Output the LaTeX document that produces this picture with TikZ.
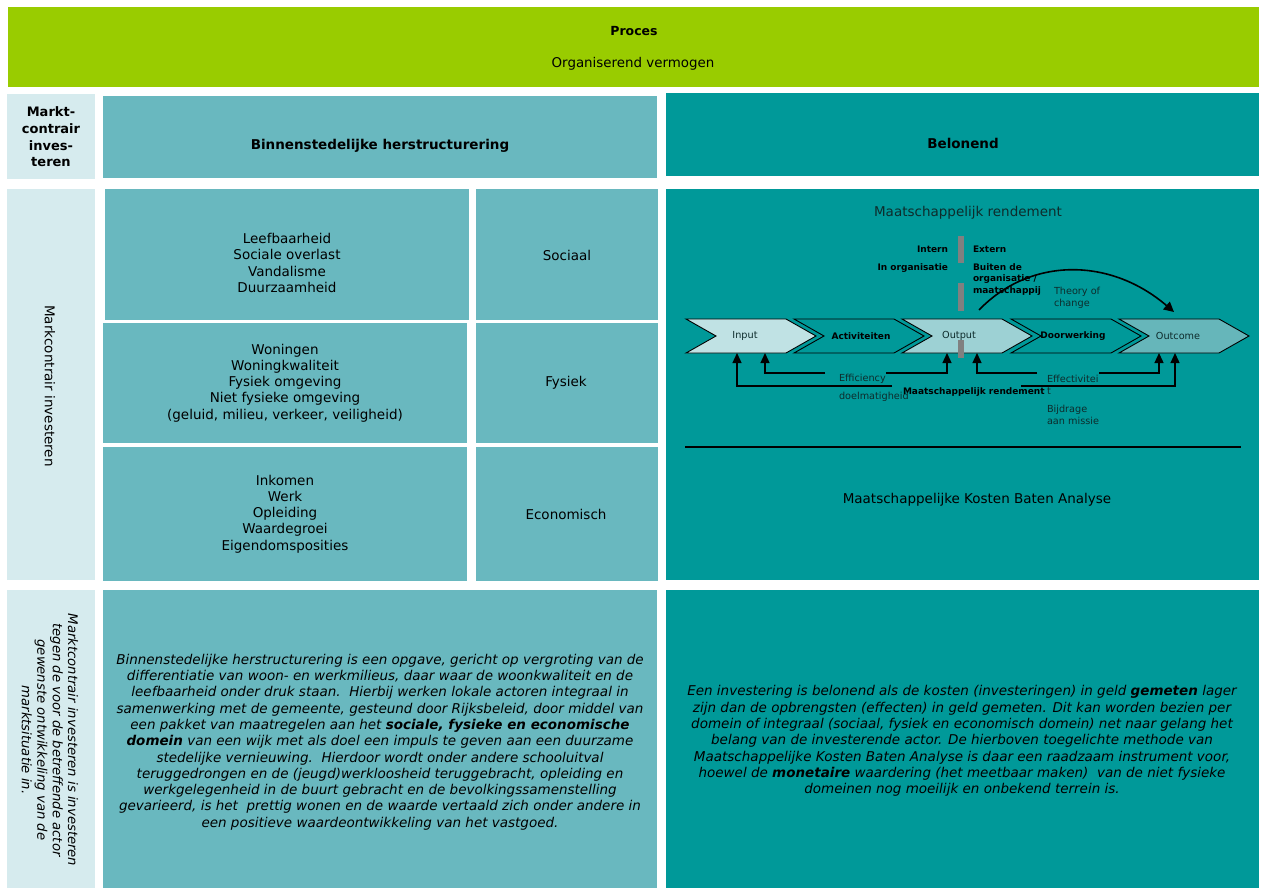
\documentclass[tikz,border=0pt]{standalone}
\usepackage{fontspec}
\setmainfont{DejaVu Sans}
\usetikzlibrary{arrows.meta}
\definecolor{procgreen}{HTML}{99CC00}
\definecolor{paleteal}{HTML}{D6EBEE}
\definecolor{midteal}{HTML}{69B8BF}
\definecolor{deepteal}{HTML}{009999}
\definecolor{chevin}{HTML}{C0E2E4}
\definecolor{chevout}{HTML}{9DD1D4}
\definecolor{chevoutc}{HTML}{66B6BA}
\definecolor{softink}{HTML}{0E2C2C}
\definecolor{barcol}{HTML}{808080}

\begin{document}
\begin{tikzpicture}[x=1pt,y=-1pt,
  panel/.style={inner sep=0pt, outer sep=0pt, draw=none},
  txt/.style={inner sep=0pt, outer sep=0pt, align=center, text=black},
  body/.style={txt, font=\fontsize{13.5}{16.2}\selectfont},
  bodyb/.style={txt, font=\fontsize{13}{16.6}\selectfont\bfseries},
  para/.style={txt, font=\fontsize{13.5}{16.3}\selectfont\itshape},
  tiny/.style={txt, font=\fontsize{9.7}{11.8}\selectfont},
  tinyb/.style={txt, font=\fontsize{9}{11.5}\selectfont\bfseries},
  soft/.style={text=softink},
  chev/.style={draw=black, line width=0.9pt},
  link/.style={draw=black, line width=1.3pt, -{Triangle[width=9pt,length=10pt]}},
  bar/.style={fill=barcol, draw=none}
]
\useasboundingbox (0,0) rectangle (1263,889);

% ---- top band: process ----
\node[panel, fill=procgreen, minimum width=1251pt, minimum height=80pt] (proc) at (633.5,47) {};
\node[txt, font=\fontsize{12.5}{15}\selectfont\bfseries] (proctitle) at (634,31) {Proces};
\node[txt, font=\fontsize{13.4}{15}\selectfont] (procsub) at (633,64) {Organiserend vermogen};

% ---- header row ----
\node[panel, fill=paleteal, minimum width=88pt, minimum height=85pt] (hdrL) at (51,136) {};
\node[bodyb] (hdrLt) at (51,137) {Markt-\\contrair\\inves-\\teren};
\node[panel, fill=midteal, minimum width=554pt, minimum height=82pt] (hdrM) at (380,137) {};
\node[bodyb, font=\fontsize{13.5}{16}\selectfont\bfseries] (hdrMt) at (380,146) {Binnenstedelijke herstructurering};
\node[panel, fill=deepteal, minimum width=593pt, minimum height=83pt] (hdrR) at (962.5,134.5) {};
\node[bodyb, font=\fontsize{13.5}{16}\selectfont\bfseries] (hdrRt) at (963,143) {Belonend};

% ---- middle row ----
\node[panel, fill=paleteal, minimum width=88pt, minimum height=391pt] (midL) at (51,384.5) {};
\node[body, rotate=-90] (midLt) at (50,386) {Markcontrair investeren};

\node[panel, fill=midteal, minimum width=364pt, minimum height=131pt] (socA) at (287,254.5) {};
\node[body] (socAt) at (287,263) {Leefbaarheid\\Sociale overlast\\Vandalisme\\Duurzaamheid};
\node[panel, fill=midteal, minimum width=182pt, minimum height=131pt] (socB) at (567,254.5) {};
\node[body] (socBt) at (567,255) {Sociaal};

\node[panel, fill=midteal, minimum width=364pt, minimum height=120pt] (fysA) at (285,383) {};
\node[body] (fysAt) at (285,383) {Woningen\\Woningkwaliteit\\Fysiek omgeving\\Niet fysieke omgeving\\(geluid, milieu, verkeer, veiligheid)};
\node[panel, fill=midteal, minimum width=182pt, minimum height=120pt] (fysB) at (567,383) {};
\node[body] (fysBt) at (566,383) {Fysiek};

\node[panel, fill=midteal, minimum width=364pt, minimum height=134pt] (ecoA) at (285,514) {};
\node[body] (ecoAt) at (285,514) {Inkomen\\Werk\\Opleiding\\Waardegroei\\Eigendomsposities};
\node[panel, fill=midteal, minimum width=182pt, minimum height=134pt] (ecoB) at (567,514) {};
\node[body] (ecoBt) at (566,514) {Economisch};

\node[panel, fill=deepteal, minimum width=593pt, minimum height=391pt] (mkba) at (962.5,384.5) {};

% ---- value chain inside the right panel ----
\node[txt, soft, font=\fontsize{13.5}{16}\selectfont] (rend) at (968,213) {Maatschappelijk rendement};

\foreach \x/\c/\n in {686/chevin/chIn, 794/deepteal/chAct, 902/chevout/chOut, 1011/deepteal/chDoor, 1119/chevoutc/chOutc} {
  \draw[chev, fill=\c] (\x,319) -- ++(100,0) -- ++(30,17) -- ++(-30,17) -- ++(-100,0) -- ++(30,-17) -- cycle;
}
\node[tiny, soft] (lIn) at (745,336) {Input};
\node[tinyb] (lAct) at (861,336) {Activiteiten};
\node[tiny, soft] (lOut) at (959,336) {Output};
\node[tinyb] (lDoor) at (1073,336) {Doorwerking};
\node[tiny, soft] (lOutc) at (1178,336) {Outcome};

% boundary between organisation and society
\fill[bar] (958,236) rectangle (964,263);
\fill[bar] (958,283) rectangle (964,311);
\fill[bar] (958,340) rectangle (964,358);

\node[tinyb, anchor=east] (intern) at (948,249) {Intern};
\node[tinyb, anchor=east] (inorg) at (948,268) {In organisatie};
\node[tinyb, anchor=west] (extern) at (973,249) {Extern};
\node[tinyb, anchor=west, align=left] (buiten) at (973,279.5) {Buiten de\\organisatie /\\maatschappij};
\node[tiny, soft, anchor=west, align=left] (toc) at (1054,298) {Theory of\\change};

% theory of change arc
\coordinate (arcS) at (979,310);
\coordinate (arcE) at (1174,312);
\draw[line width=1.6pt, -{Triangle[width=10pt,length=10pt]}] (arcS) .. controls (1030,257) and (1110,257) .. (arcE);

% measuring arrows under the chain
\coordinate (inBotA) at (737,353);
\coordinate (inBotB) at (765,353);
\coordinate (outBotA) at (947,353);
\coordinate (outBotB) at (977,353);
\coordinate (ocBotA) at (1159,353);
\coordinate (ocBotB) at (1175,353);
\coordinate (effL) at (825,373);
\coordinate (effR) at (886,373);
\coordinate (efvL) at (1037,373);
\coordinate (efvR) at (1099,373);
\coordinate (mrL) at (892,386);
\coordinate (mrR) at (1021,386);

\draw[link] (effL) -| (inBotB);
\draw[link] (effR) -| (outBotA);
\draw[link] (efvL) -| (outBotB);
\draw[link] (efvR) -| (ocBotA);
\draw[link] (mrL) -| (inBotA);
\draw[link] (mrR) -| (ocBotB);

\node[tiny, soft, anchor=west] (eff) at (839,379) {Efficiency};
\node[tiny, soft, anchor=west] (doel) at (839,397) {doelmatigheid};
\node[tinyb, anchor=west] (mrend) at (903,392) {Maatschappelijk rendement};
\node[tiny, soft, anchor=west, align=left] (efv) at (1047,385) {Effectivitei\\t};
\node[tiny, soft, anchor=west, align=left] (bijd) at (1047,415) {Bijdrage\\aan missie};

\coordinate (ruleL) at (685,447);
\coordinate (ruleR) at (1241,447);
\draw[line width=1.3pt] (ruleL) -- (ruleR);
\node[txt, font=\fontsize{13.5}{16}\selectfont] (mkbat) at (977,500) {Maatschappelijke Kosten Baten Analyse};

% ---- bottom row: explanations ----
\node[panel, fill=paleteal, minimum width=88pt, minimum height=298pt] (botL) at (51,739) {};
\node[para, rotate=-90, font=\fontsize{13.2}{15.4}\selectfont\itshape] (botLt) at (50,740) {Marktcontrair investeren is investeren\\tegen de voor de betreffende actor\\gewenste ontwikkeling van de\\marktsituatie in.};

\node[panel, fill=midteal, minimum width=554pt, minimum height=298pt] (botM) at (380,739) {};
\node[para] (botMt) at (380,742) {Binnenstedelijke herstructurering is een opgave, gericht op vergroting van de\\
differentiatie van woon- en werkmilieus, daar waar de woonkwaliteit en de\\
leefbaarheid onder druk staan.\ \ Hierbij werken lokale actoren integraal in\\
samenwerking met de gemeente, gesteund door Rijksbeleid, door middel van\\
een pakket van maatregelen aan het \textbf{sociale, fysieke en economische}\\
\textbf{domein} van een wijk met als doel een impuls te geven aan een duurzame\\
stedelijke vernieuwing.\ \ Hierdoor wordt onder andere schooluitval\\
teruggedrongen en de (jeugd)werkloosheid teruggebracht, opleiding en\\
werkgelegenheid in de buurt gebracht en de bevolkingssamenstelling\\
gevarieerd, is het\ \ prettig wonen en de waarde vertaald zich onder andere in\\
een positieve waardeontwikkeling van het vastgoed.};

\node[panel, fill=deepteal, minimum width=593pt, minimum height=298pt] (botR) at (962.5,739) {};
\node[para] (botRt) at (962,741) {Een investering is belonend als de kosten (investeringen) in geld \textbf{gemeten} lager\\
zijn dan de opbrengsten (effecten) in geld gemeten. Dit kan worden bezien per\\
domein of integraal (sociaal, fysiek en economisch domein) net naar gelang het\\
belang van de investerende actor. De hierboven toegelichte methode van\\
Maatschappelijke Kosten Baten Analyse is daar een raadzaam instrument voor,\\
hoewel de \textbf{monetaire} waardering (het meetbaar maken)\ \ van de niet fysieke\\
domeinen nog moeilijk en onbekend terrein is.};
\end{tikzpicture}
\end{document}
